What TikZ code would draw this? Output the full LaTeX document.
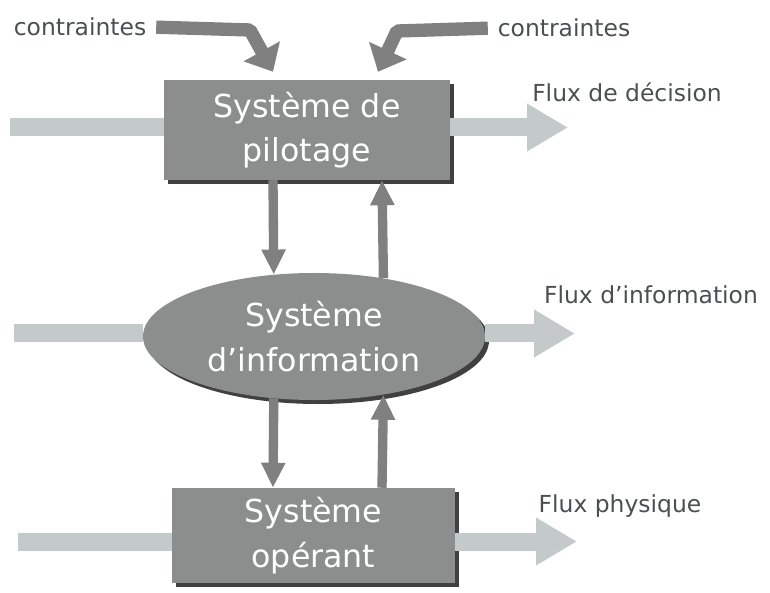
\documentclass[tikz,border=0pt]{standalone}
\usepackage{fontspec}
\setmainfont{DejaVu Sans}
\usetikzlibrary{arrows.meta, shapes.geometric, shadows}
\definecolor{flowgray}{HTML}{C4CACA}
\definecolor{boxgray}{HTML}{8C8D8D}
\definecolor{linkgray}{HTML}{808080}
\definecolor{labelgray}{HTML}{4A5050}

\begin{document}
\begin{tikzpicture}[x=0.03cm, y=-0.03cm,
  sys/.style = {fill=boxgray, text=white, align=center, inner sep=0pt,
    font=\fontsize{27}{38}\selectfont,
    drop shadow={shadow xshift=0.12cm, shadow yshift=-0.12cm, fill=black!75, opacity=1}},
  lbl/.style = {text=labelgray, font=\fontsize{20}{24}\selectfont},
  flow/.style = {draw=flowgray, line width=0.54cm},
  flowout/.style = {flow, -{Triangle[length=1.23cm, width=1.35cm]}},
  link/.style = {draw=linkgray, line width=0.28cm, -{Triangle[length=0.75cm, width=0.68cm]}},
  constr/.style = {draw=linkgray, line width=0.4cm, line join=bevel, shorten <=5pt,
    -{Triangle[length=0.7cm, width=1.2cm]}}]
\useasboundingbox (0,0) rectangle (770,593);

% the three systems
\node[sys, rectangle, minimum width=8.58cm, minimum height=3cm] (pilot) at (307,130) {Système de\\pilotage};
\node[sys, ellipse, minimum width=10.26cm, minimum height=3.81cm] (info) at (314,336.5) {Système\\d'information};
\node[sys, rectangle, minimum width=8.49cm, minimum height=2.85cm] (oper) at (313.5,535.5) {Système\\opérant};

% labels
\node[lbl] (cstL) at (80,27) {contraintes};
\node[lbl] (cstR) at (564,28) {contraintes};
\node[lbl] (fDec) at (627,92) {Flux de décision};
\node[lbl] (fInf) at (651,295) {Flux d'information};
\node[lbl] (fPhy) at (620,506) {Flux physique};

% free ends
\coordinate (inP) at (10,127.5);
\coordinate (outP) at (568,127.5);
\coordinate (inI) at (14,333.5);
\coordinate (outI) at (575,333.5);
\coordinate (inO) at (18,541.5);
\coordinate (outO) at (577,541.5);
\coordinate (xL) at (273,0);
\coordinate (xR) at (382,0);
\coordinate (kL) at (250,30);
\coordinate (kR) at (397,31);
\coordinate (tL) at (273,0);
\coordinate (tR) at (378,0);

% flows
\draw[flow] (inP) -- (pilot.west |- inP);
\draw[flowout] (pilot.east |- inP) -- (outP);
\draw[flow] (inI) -- (info.west |- inI);
\draw[flowout] (info.east |- inI) -- (outI);
\draw[flow] (inO) -- (oper.west |- inO);
\draw[flowout] (oper.east |- inO) -- (outO);

% links between systems
\draw[link] (pilot.south -| xL) -- (info.123);
\draw[link] (info.40) -- (pilot.south -| xR);
\draw[link] (info.237) -- (oper.north -| xL);
\draw[link] (oper.north -| xR) -- (info.320);

% constraints
\draw[constr] (cstL.east) -- (kL) -- ([yshift=0.24cm]pilot.north -| tL);
\draw[constr] (cstR.west) -- (kR) -- ([yshift=0.24cm]pilot.north -| tR);
\end{tikzpicture}
\end{document}
